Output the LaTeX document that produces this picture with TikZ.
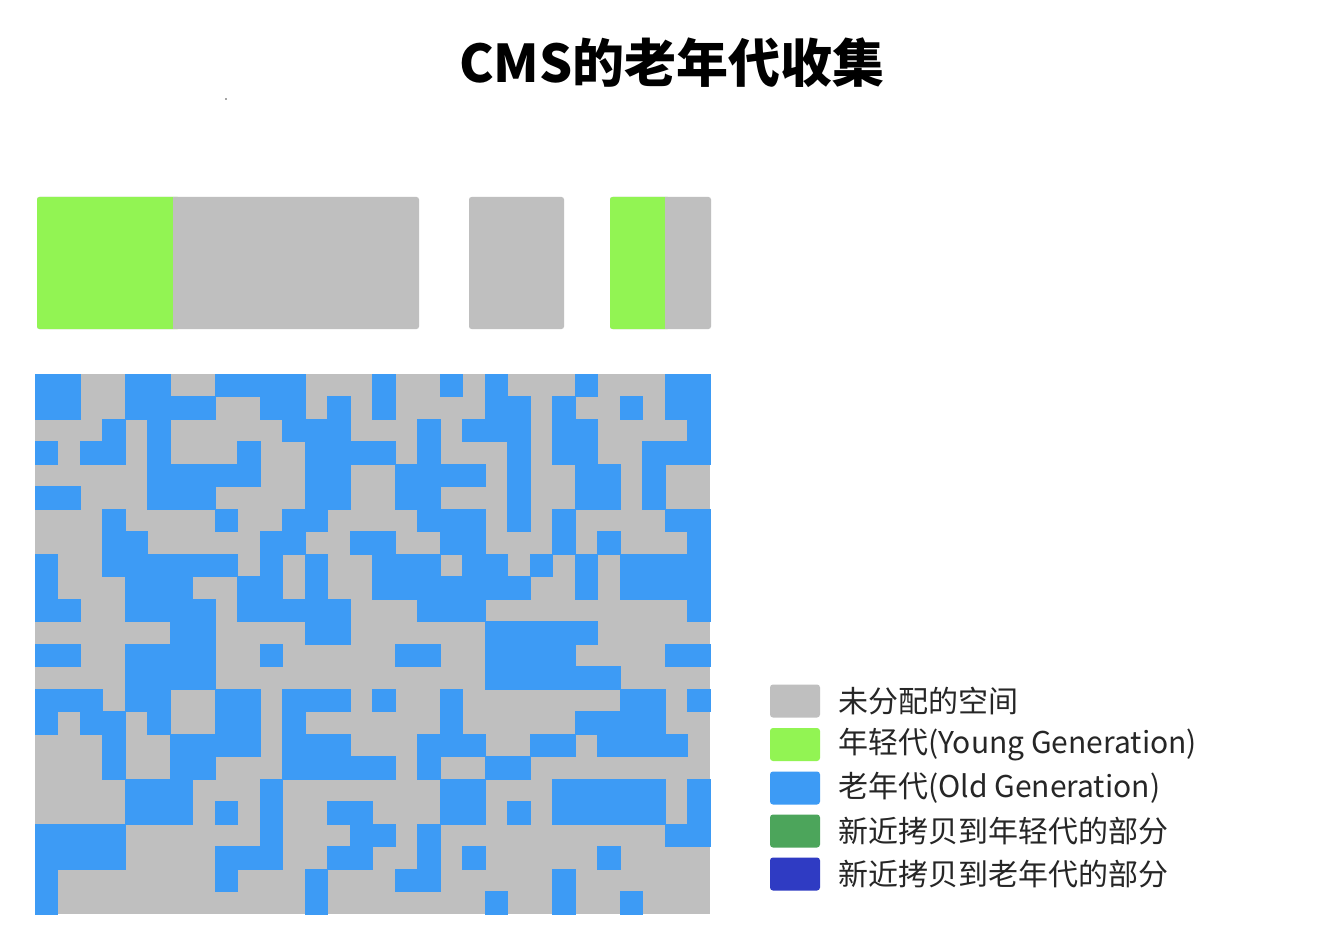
\documentclass[tikz,border=0pt]{standalone}
\usepackage{fontspec}
\newfontfamily\cjk{Noto Sans CJK SC}
\definecolor{free}{HTML}{BFBFBF}
\definecolor{young}{HTML}{92F453}
\definecolor{old}{HTML}{3D9BF5}
\definecolor{ycopy}{HTML}{4CA55B}
\definecolor{ocopy}{HTML}{2F3BC3}
\tikzset{
  cellfill/.style={fill=old, draw=old, line width=0.3pt},
  legbox/.style={rectangle, rounded corners=3pt, minimum width=50pt, minimum height=33pt, inner sep=0pt},
  legtext/.style={anchor=west, inner sep=0pt, font=\cjk\fontsize{30}{36}\selectfont, text=black!85},
  bar/.style={rounded corners=2.5pt}
}
\begin{document}
\begin{tikzpicture}[x=1pt,y=-1pt]
\useasboundingbox (0,0) rectangle (1332,941);
\fill[white] (0,0) rectangle (1332,941);
% title
\node[inner sep=0pt, font=\cjk\bfseries\fontsize{52}{60}\selectfont] (title) at (672,63) {CMS的老年代收集};
\fill[black!70] (226,99) circle (0.9);
% top bars
\fill[free, bar] (37,197) rectangle (419,329);
\fill[young, bar] (37,197) rectangle (180,329);
\fill[free] (173,197) rectangle (182,329);
\fill[free, bar] (469,197) rectangle (564,329);
\fill[free, bar] (610,197) rectangle (711,329);
\fill[young, bar] (610,197) rectangle (670,329);
\fill[free] (665,197) rectangle (672,329);
% grid
\fill[free] (35,374) rectangle (710,914);
\foreach \r/\cols in {
 0/{0,1,4,5,8,9,10,11,15,18,20,24,28,29},
 1/{0,1,4,5,6,7,10,11,13,15,20,21,23,26,28,29},
 2/{3,5,11,12,13,17,19,20,21,23,24,29},
 3/{0,2,3,5,9,12,13,14,15,17,21,23,24,27,28,29},
 4/{5,6,7,8,9,12,13,16,17,18,19,21,24,25,27},
 5/{0,1,5,6,7,12,13,16,17,21,24,25,27},
 6/{3,8,11,12,17,18,19,21,23,28,29},
 7/{3,4,10,11,14,15,18,19,23,25,29},
 8/{0,3,4,5,6,7,8,10,12,15,16,17,19,20,22,24,26,27,28,29},
 9/{0,4,5,6,9,10,12,15,16,17,18,19,20,21,24,26,27,28,29},
 10/{0,1,4,5,6,7,9,10,11,12,13,17,18,19,29},
 11/{6,7,12,13,20,21,22,23,24},
 12/{0,1,4,5,6,7,10,16,17,20,21,22,23,28,29},
 13/{4,5,6,7,20,21,22,23,24,25},
 14/{0,1,2,4,5,8,9,11,12,13,15,18,26,27,29},
 15/{0,2,3,5,8,9,11,18,24,25,26,27},
 16/{3,6,7,8,9,11,12,13,17,18,19,22,23,25,26,27,28},
 17/{3,6,7,11,12,13,14,15,17,20,21},
 18/{4,5,6,10,18,19,23,24,25,26,27,29},
 19/{4,5,6,8,10,13,14,18,19,21,23,24,25,26,27,29},
 20/{0,1,2,3,10,14,15,17,28,29},
 21/{0,1,2,3,8,9,10,13,14,17,19,25},
 22/{0,8,12,16,17,23},
 23/{0,12,20,23,26}}
{
  \foreach \c in \cols {
    \filldraw[cellfill] ({35+22.5*\c},{374+22.5*\r}) rectangle +(22.5,22.5);
  }
}
% legend
\node[legbox, fill=free]  (k1) at (795,701) {};
\node[legbox, fill=young] (k2) at (795,744.5) {};
\node[legbox, fill=old]   (k3) at (795,788) {};
\node[legbox, fill=ycopy] (k4) at (795,831) {};
\node[legbox, fill=ocopy] (k5) at (795,874) {};
\node[legtext] (t1) at (838,701) {未分配的空间};
\node[legtext] (t2) at (838,744.5) {年轻代(Young Generation)};
\node[legtext] (t3) at (838,788) {老年代(Old Generation)};
\node[legtext] (t4) at (838,831) {新近拷贝到年轻代的部分};
\node[legtext] (t5) at (838,874) {新近拷贝到老年代的部分};
\end{tikzpicture}
\end{document}
